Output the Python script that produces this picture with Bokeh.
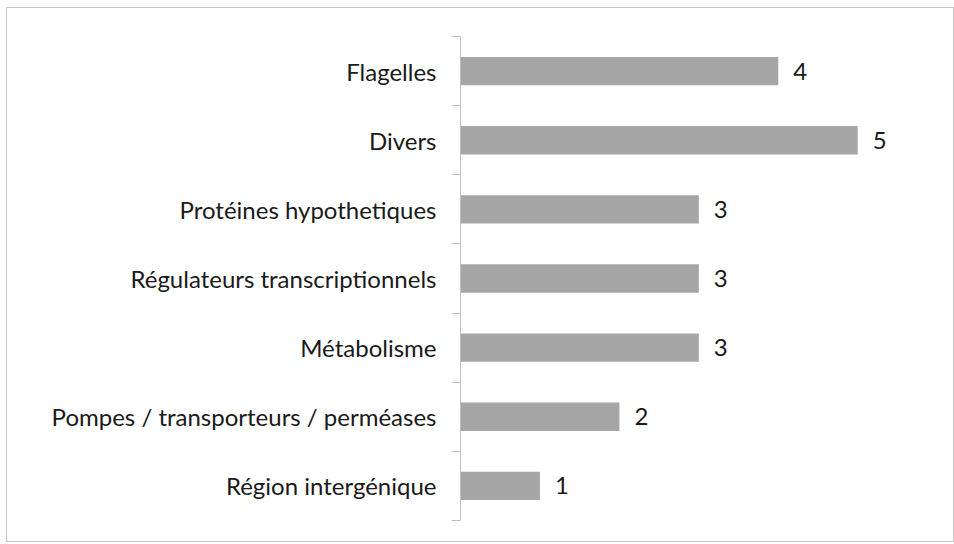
from bokeh.plotting import figure
from bokeh.models import Range1d, FixedTicker, ColumnDataSource, LabelSet
from bokeh.core.properties import value
from bokeh.embed import file_html
from bokeh.resources import INLINE

categories = ["Flagelles", "Divers", "Protéines hypothetiques", "Régulateurs transcriptionnels",
              "Métabolisme", "Pompes / transporteurs / perméases", "Région intergénique"]
values = [4, 5, 3, 3, 3, 2, 1]

pos = [i + 0.5 for i in range(len(categories))]
src = ColumnDataSource(dict(y=pos, v=values, lab=[str(v) for v in values], cat=categories))

FONT = "Lato"
FS = "24px"
p = figure(width=948, height=535, output_backend="svg", toolbar_location=None,
           x_range=Range1d(0, 6.13), y_range=Range1d(len(categories), 0),
           min_border_left=453, min_border_right=8, min_border_top=28, min_border_bottom=23)
p.styles = {"border": "1px solid #c8c8c8", "box-sizing": "border-box",
            "margin-left": "6px", "margin-top": "7px"}
p.outline_line_color = None
p.grid.visible = False
p.xaxis.visible = False

p.hbar(y="y", right="v", left=0, height=0.41, source=src, fill_color="#a6a6a6", line_color=None)
p.add_layout(LabelSet(x="v", y="y", text="lab", source=src, x_offset=15, text_baseline="middle",
                      text_font=value(FONT), text_font_size=FS, text_color="#1a1a1a"))

ya = p.yaxis[0]
ya.ticker = FixedTicker(ticks=pos, minor_ticks=list(range(len(categories) + 1)))
ya.major_label_overrides = {p_: c for p_, c in zip(pos, categories)}
ya.major_tick_line_color = None
ya.major_tick_out = 0
ya.major_tick_in = 0
ya.minor_tick_out = 9
ya.minor_tick_in = 0
ya.minor_tick_line_color = "#bfbfbf"
ya.axis_line_color = "#bfbfbf"
ya.major_label_standoff = 15
ya.major_label_text_font = FONT
ya.major_label_text_font_size = FS
ya.major_label_text_color = "#1a1a1a"

open("out.html", "w").write(file_html(p, INLINE))
